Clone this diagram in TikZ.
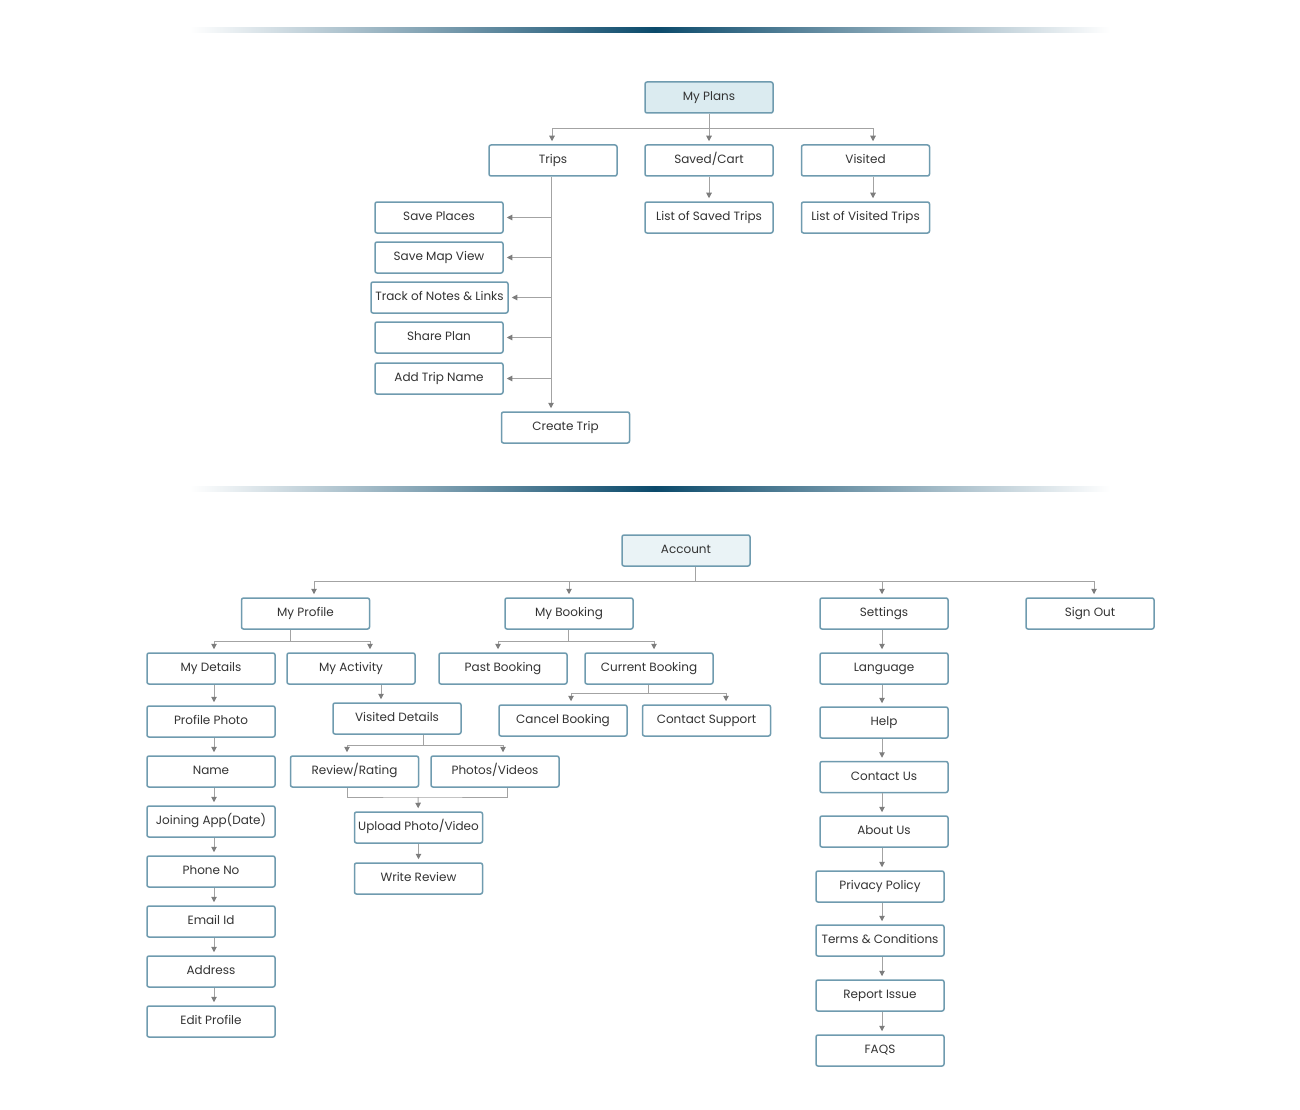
\documentclass[tikz,border=0pt]{standalone}
\usepackage{fontspec}
\setmainfont{Poppins}
\usetikzlibrary{arrows.meta}
\definecolor{boxc}{HTML}{6F9BAF}
\definecolor{headA}{HTML}{DBEBF0}
\definecolor{headB}{HTML}{EAF3F6}
\definecolor{linec}{HTML}{A3A3A3}
\definecolor{tipc}{HTML}{7D7D7D}
\definecolor{txt}{HTML}{333333}
\definecolor{band}{HTML}{0B4A6B}
\begin{document}
\begin{tikzpicture}[x=1pt,y=-1pt,
  box/.style={draw=boxc,line width=1.5pt,rounded corners=2pt,fill=white,
    minimum width=128pt,minimum height=31pt,inner sep=1pt,text=txt,
    text height=8.8pt,text depth=2.6pt,
    font=\fontsize{12}{14}\selectfont},
  link/.style={draw=linec,line width=1pt},
  arr/.style={link,-{Triangle[length=5.5pt,width=5.5pt,color=tipc]},shorten >=3pt}]
\useasboundingbox (0,0) rectangle (1300,1110);

% banners
\shade[left color=white,right color=band] (190,27.5) rectangle (655,32.5);
\shade[left color=band,right color=white] (655,27.5) rectangle (1110,32.5);
\shade[left color=white,right color=band] (190,486.5) rectangle (655,491.5);
\shade[left color=band,right color=white] (655,486.5) rectangle (1110,491.5);

% my plans
\begin{scope}[every node/.style={box}]
  \node[fill=headA] (plans) at (709,97.5) {My Plans};
  \node (trips) at (553,160.5) {Trips};
  \node (saved) at (709,160.5) {Saved/Cart};
  \node (visited) at (865.5,160.5) {Visited};
  \node (lsaved) at (709,217.5) {List of Saved Trips};
  \node (lvisited) at (865.5,217.5) {List of Visited Trips};
  \node (splaces) at (439,217.5) {Save Places};
  \node (smap) at (439,257.5) {Save Map View};
  \node[minimum width=137pt] (track) at (439.5,297.5) {Track of Notes \& Links};
  \node (share) at (439,337.5) {Share Plan};
  \node (tname) at (439,378.5) {Add Trip Name};
  \node (create) at (565.5,427.5) {Create Trip};
\end{scope}

\begin{scope}
  \coordinate (pj) at (709,129);
  \draw[link] (plans) -- (pj);
  \draw[arr] (pj) -| ([xshift=-1pt]trips.north);
  \draw[arr] (pj) -- (saved);
  \draw[arr] (pj) -| ([xshift=7.5pt]visited.north);
  \draw[arr] (saved) -- (lsaved);
  \draw[arr] ([xshift=7.5pt]visited.south) -- ([xshift=7.5pt]lvisited.north);
  \draw[arr] ([xshift=-2pt]trips.south) -- ([xshift=-2pt]trips.south |- create.north);
  \foreach \n in {splaces,smap,track,share,tname}
    \draw[arr] ([xshift=-2pt]trips.south |- \n) -- (\n.east);
\end{scope}

% account
\begin{scope}[every node/.style={box}]
  \node[fill=headB] (acc) at (686,550.5) {Account};
  \node (profile) at (305.5,613.5) {My Profile};
  \node (booking) at (569,613.5) {My Booking};
  \node (settings) at (884,613.5) {Settings};
  \node (signout) at (1090,613.5) {Sign Out};
  \node (details) at (211,668.5) {My Details};
  \node (activity) at (351,668.5) {My Activity};
  \node (past) at (503,668.5) {Past Booking};
  \node (current) at (649,668.5) {Current Booking};
  \node (cancel) at (563,720.5) {Cancel Booking};
  \node (support) at (706.5,720.5) {Contact Support};
  \node (vdetails) at (397,718.5) {Visited Details};
  \node (review) at (354.5,771.5) {Review/Rating};
  \node (photos) at (495,771.5) {Photos/Videos};
  \node (upload) at (418.5,827.5) {Upload Photo/Video};
  \node (write) at (418.5,878.5) {Write Review};
  \node (pphoto) at (211,721.5) {Profile Photo};
  \node (name) at (211,771.5) {Name};
  \node (joining) at (211,821.5) {Joining App(Date)};
  \node (phone) at (211,871.5) {Phone No};
  \node (email) at (211,921.5) {Email Id};
  \node (address) at (211,971.5) {Address};
  \node (edit) at (211,1021.5) {Edit Profile};
  \node (lang) at (884,668.5) {Language};
  \node (help) at (884,722.5) {Help};
  \node (contact) at (884,777) {Contact Us};
  \node (about) at (884,831.5) {About Us};
  \node (privacy) at (880,886.5) {Privacy Policy};
  \node (terms) at (880,940.5) {Terms \& Conditions};
  \node (report) at (880,995.5) {Report Issue};
  \node (faqs) at (880,1050.5) {FAQS};
\end{scope}

\begin{scope}
  \coordinate (aj) at (695,581);
  \draw[link] (acc.south -| aj) -- (aj);
  \draw[arr] (aj) -| ([xshift=8.5pt]profile.north);
  \draw[arr] (aj) -| (booking.north);
  \draw[arr] (aj) -| ([xshift=-2pt]settings.north);
  \draw[arr] (aj) -| ([xshift=4pt]signout.north);
  % profile
  \coordinate (pfj) at (290,641);
  \draw[link] (profile.south -| pfj) -- (pfj);
  \draw[arr] (pfj) -| ([xshift=3pt]details.north);
  \draw[arr] (pfj) -| ([xshift=19pt]activity.north);
  \foreach \a/\b in {details/pphoto,pphoto/name,name/joining,joining/phone,
      phone/email,email/address,address/edit}
    \draw[arr] ([xshift=3pt]\a.south) -- ([xshift=3pt]\b.north);
  \draw[arr] ([xshift=30pt]activity.south) -- ([xshift=30pt]activity.south |- vdetails.north);
  \coordinate (vj) at (423,745);
  \draw[link] (vdetails.south -| vj) -- (vj);
  \draw[arr] (vj) -| ([xshift=-7.5pt]review.north);
  \draw[arr] (vj) -| ([xshift=8pt]photos.north);
  \coordinate (mj) at (418,797);
  \draw[link] ([xshift=-7.5pt]review.south) |- (mj) -| ([xshift=12pt]photos.south);
  \draw[arr] (mj) -- (upload);
  \draw[arr] (upload) -- (write);
  % booking
  \coordinate (bj) at (568,641);
  \draw[link] (booking.south -| bj) -- (bj);
  \draw[arr] (bj) -| ([xshift=-5pt]past.north);
  \draw[arr] (bj) -| ([xshift=5pt]current.north);
  \coordinate (cj) at (648,693);
  \draw[link] (current.south -| cj) -- (cj);
  \draw[arr] (cj) -| ([xshift=8pt]cancel.north);
  \draw[arr] (cj) -| ([xshift=19.5pt]support.north);
  % settings
  \coordinate (sx) at (882,0);
  \foreach \a/\b in {settings/lang,lang/help,help/contact,contact/about,
      about/privacy,privacy/terms,terms/report,report/faqs}
    \draw[arr] (\a.south -| sx) -- (\b.north -| sx);
\end{scope}
\end{tikzpicture}
\end{document}
